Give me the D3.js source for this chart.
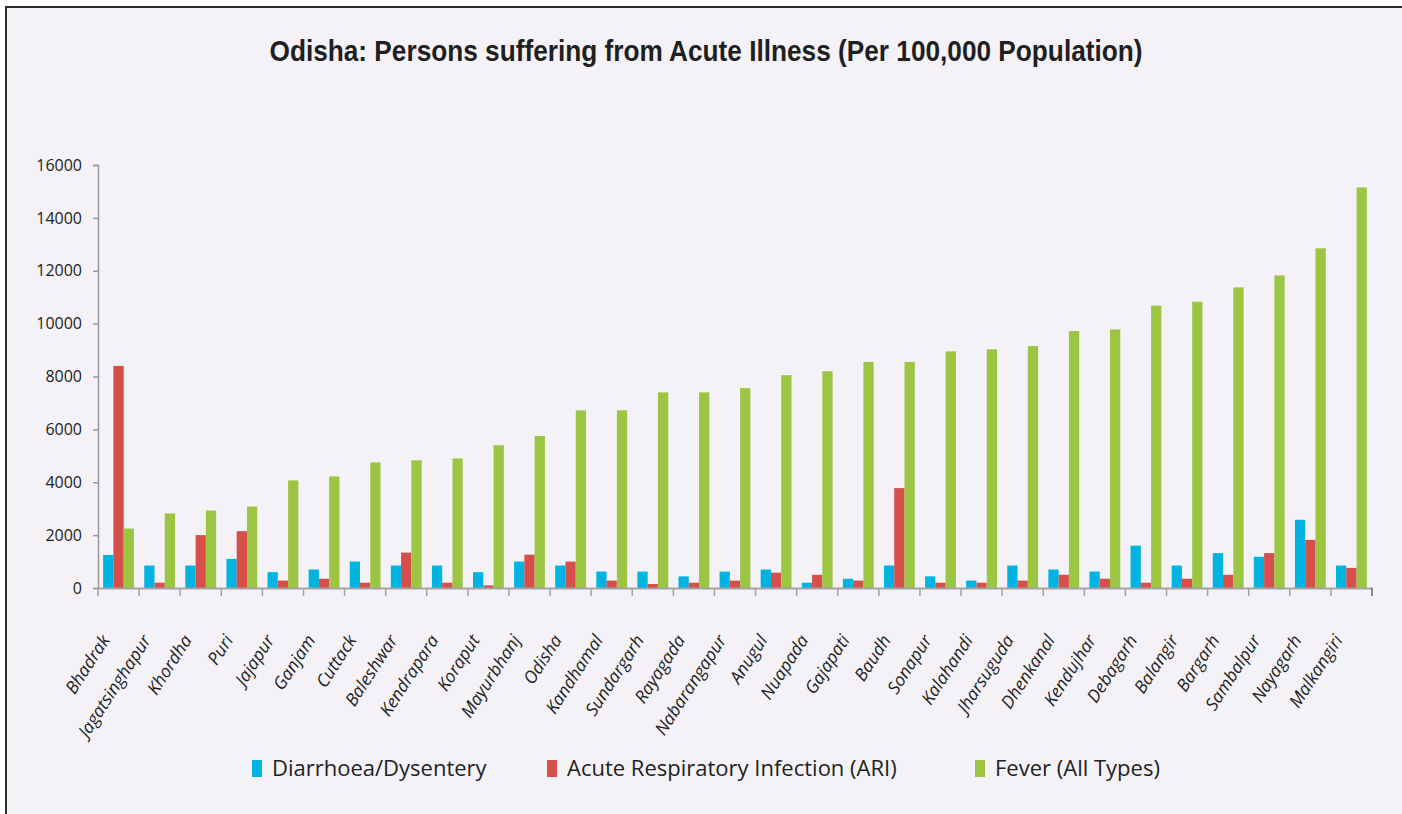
<!DOCTYPE html>
<html>
<head>
<meta charset="utf-8">
<script src="https://cdn.jsdelivr.net/npm/d3@7"></script>
<style>
  body { margin: 0; background: #ffffff; }
  svg { display: block; }
</style>
</head>
<body>
<figure id="chart" style="margin:0"></figure>
<script>
const districts = ["Bhadrak", "Jagatsinghapur", "Khordha", "Puri", "Jajapur", "Ganjam", "Cuttack", "Baleshwar",
  "Kendrapara", "Koraput", "Mayurbhanj", "Odisha", "Kandhamal", "Sundargarh", "Rayagada", "Nabarangapur",
  "Anugul", "Nuapada", "Gajapati", "Baudh", "Sonapur", "Kalahandi", "Jharsuguda", "Dhenkanal", "Kendujhar",
  "Debagarh", "Balangir", "Bargarh", "Sambalpur", "Nayagarh", "Malkangiri"];

const diarrhoea = [1250, 850, 850, 1100, 600, 700, 1000, 850, 850, 600, 1000, 850, 620, 620, 440, 620,
  700, 200, 350, 850, 440, 280, 850, 700, 620, 1600, 850, 1320, 1180, 2580, 850];
const ari = [8400, 200, 2000, 2150, 280, 350, 200, 1340, 200, 100, 1260, 1000, 280, 150, 200, 280,
  580, 500, 280, 3780, 200, 200, 280, 500, 350, 200, 350, 500, 1320, 1820, 760];
const fever = [2250, 2820, 2930, 3080, 4070, 4220, 4750, 4830, 4900, 5400, 5750, 6720, 6720, 7400, 7400, 7560,
  8050, 8200, 8550, 8550, 8950, 9030, 9150, 9720, 9780, 10680, 10830, 11370, 11820, 12850, 15150];

const seriesNames = ["Diarrhoea/Dysentery", "Acute Respiratory Infection (ARI)", "Fever (All Types)"];
const yTicks = [0, 2000, 4000, 6000, 8000, 10000, 12000, 14000, 16000];

const colors = ["#00b4e2", "#d64f4b", "#9bc543"];
const width = 1402, height = 814;
const plot = { left: 98, right: 1372, top: 165, bottom: 588 };

const svg = d3.select("figure#chart").append("svg")
  .attr("width", width)
  .attr("height", height);

// panel background and frame
svg.append("rect")
  .attr("x", 6).attr("y", 7)
  .attr("width", width - 6).attr("height", height - 7)
  .attr("fill", "#f4f2f7");
svg.append("line").attr("x1", 5).attr("x2", width).attr("y1", 7).attr("y2", 7)
  .attr("stroke", "#2b2b2b").attr("stroke-width", 2);
svg.append("line").attr("x1", 6).attr("x2", 6).attr("y1", 6).attr("y2", height)
  .attr("stroke", "#2b2b2b").attr("stroke-width", 2);

svg.append("text")
  .attr("x", 706).attr("y", 61)
  .attr("text-anchor", "middle")
  .attr("font-family", "'Liberation Sans Narrow', 'Arial Narrow', 'Liberation Sans', sans-serif")
  .attr("font-weight", "bold")
  .attr("font-size", 30)
  .attr("fill", "#1f1f1f")
  .attr("textLength", 873)
  .attr("lengthAdjust", "spacingAndGlyphs")
  .text("Odisha: Persons suffering from Acute Illness (Per 100,000 Population)");

// scales
const x0 = d3.scaleBand()
  .domain(districts)
  .range([plot.left, plot.right])
  .paddingInner(0.25)
  .paddingOuter(0.125);

const x1 = d3.scaleBand()
  .domain(d3.range(seriesNames.length))
  .range([0, x0.bandwidth()]);

const y = d3.scaleLinear()
  .domain([0, 16000])
  .range([plot.bottom, plot.top]);

// y axis
const yAxis = svg.append("g")
  .attr("transform", "translate(" + plot.left + ",0)")
  .call(d3.axisLeft(y).tickValues(yTicks).tickSize(5).tickPadding(11).tickFormat(d3.format("d")));
yAxis.select(".domain").attr("stroke", "#9a9a9a").attr("stroke-width", 1.5);
yAxis.selectAll(".tick line").attr("stroke", "#9a9a9a").attr("stroke-width", 1.5);
yAxis.selectAll("text")
  .attr("font-family", "'Open Sans', sans-serif")
  .attr("font-size", 16)
  .attr("fill", "#222");

// bars
const rows = districts.map((d, i) => ({ label: d, values: [diarrhoea[i], ari[i], fever[i]] }));

svg.append("g").selectAll("g")
  .data(rows)
  .enter()
  .append("g")
  .attr("transform", d => "translate(" + x0(d.label) + ",0)")
  .selectAll("rect")
  .data(d => d.values.map((v, k) => ({ k: k, v: v })))
  .enter()
  .append("rect")
  .attr("x", d => x1(d.k))
  .attr("y", d => y(d.v))
  .attr("width", x1.bandwidth())
  .attr("height", d => plot.bottom - y(d.v))
  .attr("fill", d => colors[d.k]);

// x axis: ticks between categories, labels rotated
const step = x0.step();
const xAxis = svg.append("g")
  .attr("transform", "translate(0," + plot.bottom + ")")
  .call(d3.axisBottom(x0).tickSize(0).tickFormat(""));
xAxis.select(".domain").attr("stroke", "#a3a3a3").attr("stroke-width", 2);

const bounds = districts.map(d => x0(d) - step * 0.125).concat([plot.right]);
xAxis.selectAll(".bound")
  .data(bounds)
  .enter()
  .append("line")
  .attr("class", "bound")
  .attr("x1", d => d).attr("x2", d => d)
  .attr("y1", 0).attr("y2", 8)
  .attr("stroke", (d, i) => i === bounds.length - 1 ? "#666" : "#a3a3a3")
  .attr("stroke-width", 1.5);

xAxis.selectAll(".lbl")
  .data(districts)
  .enter()
  .append("text")
  .attr("class", "lbl")
  .attr("transform", d => "translate(" + (x0(d) + x0.bandwidth() / 2 - 8) + ",52) rotate(-57)")
  .attr("text-anchor", "end")
  .attr("font-family", "'Open Sans', sans-serif")
  .attr("font-style", "italic")
  .attr("font-size", 17.5)
  .attr("fill", "#222")
  .text(d => d);

// legend
const legendX = [252, 547, 975];
const legend = svg.append("g").selectAll("g")
  .data(seriesNames)
  .enter()
  .append("g")
  .attr("transform", (d, i) => "translate(" + legendX[i] + ",760)");
legend.append("rect")
  .attr("width", 10).attr("height", 17)
  .attr("fill", (d, i) => colors[i]);
legend.append("text")
  .attr("x", 20).attr("y", 16)
  .attr("font-family", "'Open Sans', sans-serif")
  .attr("font-size", 22)
  .attr("fill", "#222")
  .text(d => d);
</script>
</body>
</html>
